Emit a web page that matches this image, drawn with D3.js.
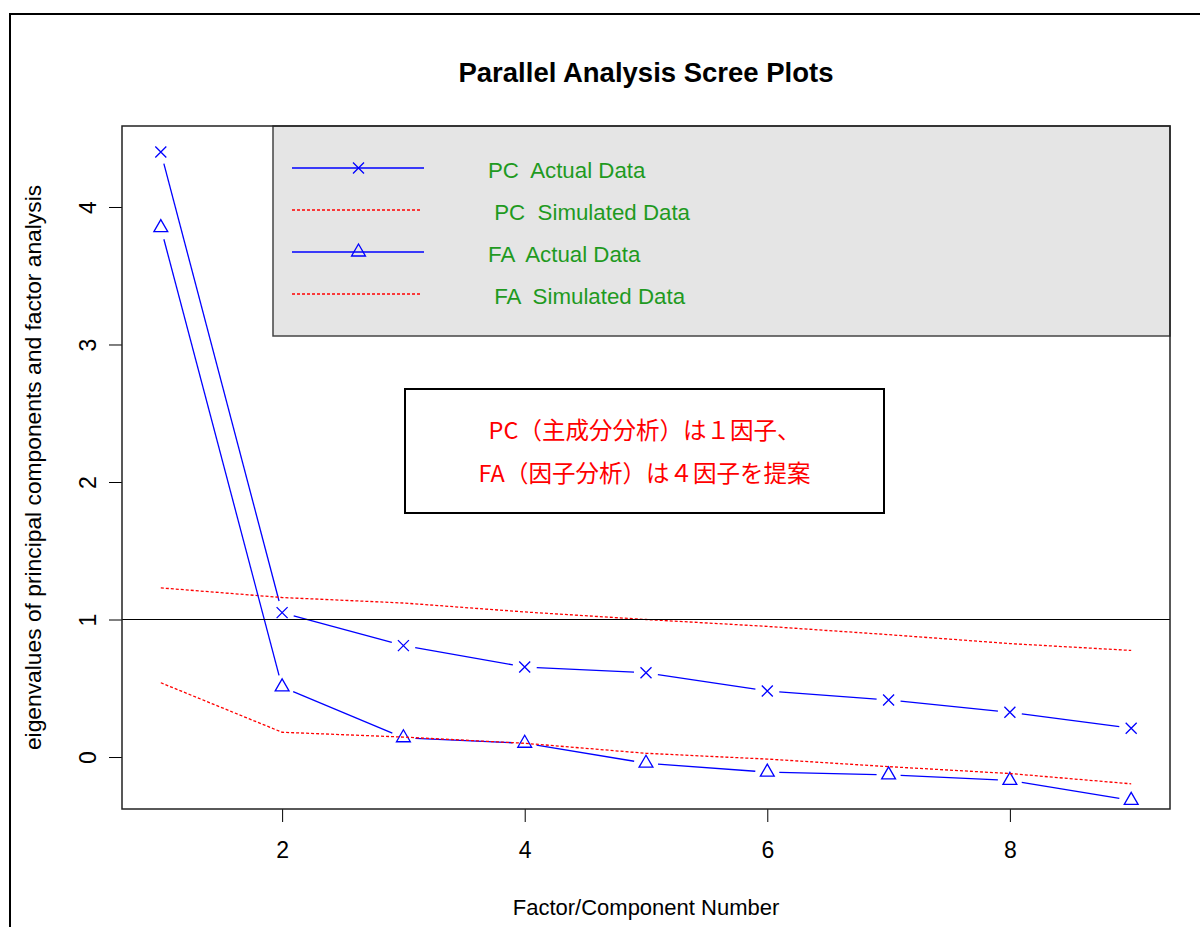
<!DOCTYPE html>
<html>
<head>
<meta charset="utf-8">
<script src="https://cdn.jsdelivr.net/npm/d3@7"></script>
<style>
  body { margin: 0; background: #fff; }
  svg { display: block; font-family: "Liberation Sans", Arial, sans-serif; }
</style>
</head>
<body>
<div id="chart"></div>
<script>
// ---- data ----
const factorNumbers = [1, 2, 3, 4, 5, 6, 7, 8, 9];
const pcActual    = [4.40, 1.05, 0.81, 0.655, 0.613, 0.48, 0.415, 0.325, 0.209];
const pcSimulated = [1.23, 1.16, 1.12, 1.055, 1.00, 0.95, 0.89, 0.825, 0.775];
const faActual    = [3.85, 0.51, 0.14, 0.10, -0.045, -0.11, -0.13, -0.17, -0.315];
const faSimulated = [0.54, 0.18, 0.145, 0.10, 0.027, -0.015, -0.07, -0.12, -0.195];
const xTicks = [2, 4, 6, 8];
const yTicks = [0, 1, 2, 3, 4];
const legendLabels = ["PC  Actual Data", " PC  Simulated Data", "FA  Actual Data", " FA  Simulated Data"];
const noteLines = ["PC（主成分分析）は１因子、", "FA（因子分析）は４因子を提案"];

const W = 1200, H = 927;
const plot = { left: 122, right: 1170, top: 126, bottom: 809 };

const svg = d3.select("#chart").append("svg")
  .attr("width", W)
  .attr("height", H);

// outer frame (only top and left edges visible in the crop)
svg.append("path")
  .attr("d", `M10,${H} L10,14 L${W},14`)
  .style("fill", "none")
  .style("stroke", "#000")
  .style("stroke-width", 2);

// R-style scales, 4% padding around the data range
const x = d3.scaleLinear().domain([0.68, 9.32]).range([plot.left, plot.right]);
const y = d3.scaleLinear().domain([-0.378, 4.589]).range([plot.bottom, plot.top]);

const blue = "#0000ff";
const red = "#ff0000";

// type = "b": segments with gaps around the points
function gappedSegments(vals, gap) {
  const pts = vals.map((v, i) => [x(factorNumbers[i]), y(v)]);
  const segs = [];
  for (let i = 0; i < pts.length - 1; i++) {
    const [x0, y0] = pts[i], [x1, y1] = pts[i + 1];
    const len = Math.hypot(x1 - x0, y1 - y0);
    if (len <= 2 * gap) continue;
    const ux = (x1 - x0) / len, uy = (y1 - y0) / len;
    segs.push([x0 + ux * gap, y0 + uy * gap, x1 - ux * gap, y1 - uy * gap]);
  }
  return segs;
}

const crossPath = "M-5.5,-5.5L5.5,5.5M-5.5,5.5L5.5,-5.5";
const triPath = "M0,-8L6.93,4L-6.93,4Z";

const layer = svg.append("g");

function drawActual(vals, marker) {
  layer.append("g").selectAll("line")
    .data(gappedSegments(vals, 12))
    .join("line")
    .attr("x1", d => d[0]).attr("y1", d => d[1])
    .attr("x2", d => d[2]).attr("y2", d => d[3])
    .style("stroke", blue)
    .style("stroke-width", 1.3);

  layer.append("g").selectAll("path")
    .data(vals)
    .join("path")
    .attr("transform", (d, i) => `translate(${x(factorNumbers[i])},${y(d)})`)
    .attr("d", marker)
    .style("fill", "none")
    .style("stroke", blue)
    .style("stroke-width", 1.3);
}

function drawSimulated(vals) {
  layer.append("path")
    .datum(vals)
    .attr("d", d3.line().x((d, i) => x(factorNumbers[i])).y(d => y(d)))
    .style("fill", "none")
    .style("stroke", red)
    .style("stroke-width", 1.3)
    .style("stroke-dasharray", "3,2");
}

drawActual(pcActual, crossPath);
drawSimulated(pcSimulated);
drawActual(faActual, triPath);
drawSimulated(faSimulated);

// abline(h = 1)
svg.append("line")
  .attr("x1", plot.left).attr("x2", plot.right)
  .attr("y1", y(1)).attr("y2", y(1))
  .style("stroke", "#000")
  .style("stroke-width", 1.2);

// axes
const xAxis = svg.append("g")
  .attr("transform", `translate(0,${plot.bottom})`)
  .call(d3.axisBottom(x).tickValues(xTicks).tickSize(13).tickFormat(d3.format("d")));
xAxis.select(".domain").remove();
xAxis.selectAll(".tick line").style("stroke", "#000");
xAxis.selectAll(".tick text")
  .attr("y", 49).attr("dy", null)
  .style("font-size", "23px").style("fill", "#000")
  .style("font-family", "'Liberation Sans', Arial, sans-serif");

const yAxis = svg.append("g")
  .attr("transform", `translate(${plot.left},0)`)
  .call(d3.axisLeft(y).tickValues(yTicks).tickSize(13).tickFormat(d3.format("d")));
yAxis.select(".domain").remove();
yAxis.selectAll(".tick line").style("stroke", "#000");
yAxis.selectAll(".tick text")
  .attr("x", null).attr("dy", null)
  .attr("text-anchor", "middle")
  .attr("transform", "translate(-26,0) rotate(-90)")
  .style("font-size", "23px").style("fill", "#000")
  .style("font-family", "'Liberation Sans', Arial, sans-serif");

// legend box (top-right, grey)
const legendBox = { left: 273, top: plot.top, right: plot.right, bottom: 336 };
svg.append("rect")
  .attr("x", legendBox.left).attr("y", legendBox.top)
  .attr("width", legendBox.right - legendBox.left)
  .attr("height", legendBox.bottom - legendBox.top)
  .style("fill", "#e5e5e5")
  .style("stroke", "#444")
  .style("stroke-width", 1.5);

const legendRow = i => 168 + i * 42;
legendLabels.forEach((label, i) => {
  const ly = legendRow(i);
  const simulated = i % 2 === 1;
  svg.append("line")
    .attr("x1", 292).attr("x2", simulated ? 420 : 424)
    .attr("y1", ly).attr("y2", ly)
    .style("stroke", simulated ? red : blue)
    .style("stroke-width", 1.3)
    .style("stroke-dasharray", simulated ? "3,2" : null);
  if (!simulated) {
    svg.append("path")
      .attr("transform", `translate(358.5,${ly})`)
      .attr("d", i === 0 ? crossPath : triPath)
      .style("fill", "none")
      .style("stroke", blue)
      .style("stroke-width", 1.3);
  }
  svg.append("text")
    .attr("x", 488).attr("y", ly + 10)
    .style("white-space", "pre")
    .style("font-size", "22.3px")
    .style("fill", "#1f9a1f")
    .text(label);
});

// box around the whole plot region
svg.append("rect")
  .attr("x", plot.left).attr("y", plot.top)
  .attr("width", plot.right - plot.left)
  .attr("height", plot.bottom - plot.top)
  .style("fill", "none")
  .style("stroke", "#222")
  .style("stroke-width", 1.5);

// annotation box
svg.append("rect")
  .attr("x", 405).attr("y", 389)
  .attr("width", 479).attr("height", 124)
  .style("fill", "#fff")
  .style("stroke", "#000")
  .style("stroke-width", 2);

noteLines.forEach((line, i) => {
  svg.append("text")
    .attr("x", 644.5).attr("y", 439 + i * 43)
    .attr("text-anchor", "middle")
    .style("font-family", "'Noto Sans CJK JP', sans-serif")
    .style("font-size", "23.5px")
    .style("fill", red)
    .text(line);
});

// titles
svg.append("text")
  .attr("x", (plot.left + plot.right) / 2).attr("y", 82)
  .attr("text-anchor", "middle")
  .style("font-size", "27.5px")
  .style("font-weight", "bold")
  .style("fill", "#000")
  .text("Parallel Analysis Scree Plots");

svg.append("text")
  .attr("x", (plot.left + plot.right) / 2).attr("y", 915)
  .attr("text-anchor", "middle")
  .style("font-size", "22px")
  .style("fill", "#000")
  .text("Factor/Component Number");

svg.append("text")
  .attr("transform", `translate(41,${(plot.top + plot.bottom) / 2}) rotate(-90)`)
  .attr("text-anchor", "middle")
  .style("font-size", "22.8px")
  .style("fill", "#000")
  .text("eigenvalues of principal components and factor analysis");
</script>
</body>
</html>
